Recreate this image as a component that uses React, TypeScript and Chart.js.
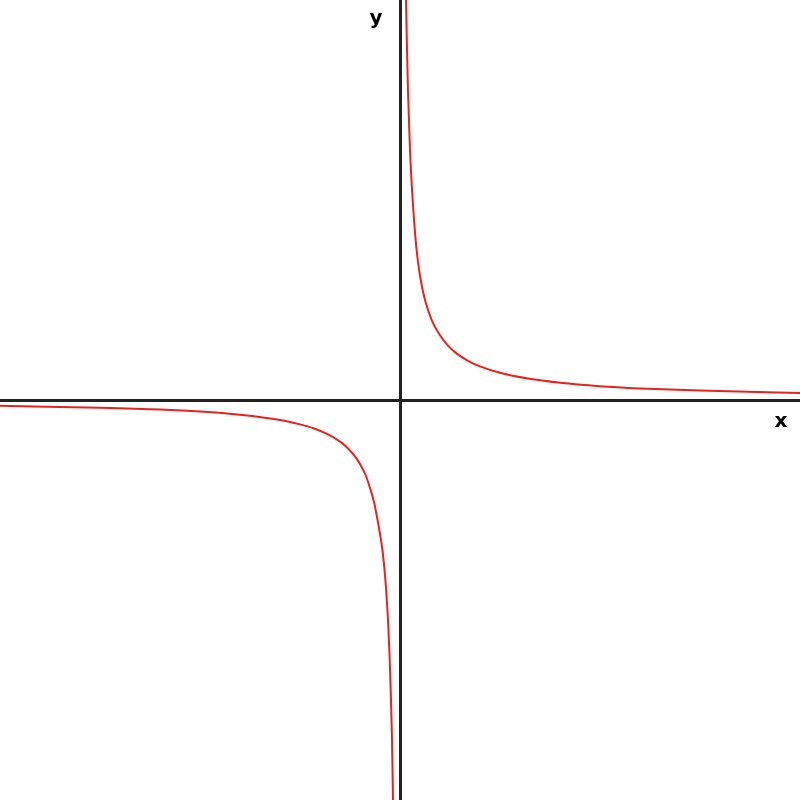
import React, { useEffect, useRef } from "react";
import { Chart, registerables } from "chart.js";

Chart.register(...registerables);

// Positive branch (x > 0)
const posX = [0.15, 0.17, 0.2, 0.25, 0.32, 0.41, 0.5, 0.63, 0.8, 1.0, 1.2, 1.42, 1.7, 2.0, 2.5, 3.2, 4.0, 5.0, 6.0, 7.5, 10];
const posY = [10, 9, 7.7, 6.24, 4.95, 3.8, 3.1, 2.48, 1.98, 1.62, 1.36, 1.16, 0.98, 0.84, 0.68, 0.535, 0.43, 0.345, 0.29, 0.235, 0.175];

// Negative branch (x < 0)
const negX = [-10, -7.5, -6, -5, -4, -3, -2.5, -2.18, -1.8, -1.5, -1.33, -1.15, -1.0, -0.85, -0.75, -0.65, -0.58, -0.5, -0.46, -0.4, -0.35, -0.3, -0.26, -0.225, -0.2, -0.175];
const negY = [-0.145, -0.195, -0.24, -0.29, -0.37, -0.5, -0.61, -0.7, -0.86, -1.04, -1.18, -1.38, -1.6, -1.9, -2.2, -2.55, -2.9, -3.35, -3.6, -4.1, -4.7, -5.5, -6.4, -7.5, -8.5, -10];

const xRange = [-10, 10];
const yRange = [-10, 10];
const axisLabels = { x: "x", y: "y" };

const labelPlugin = {
  id: "axisLabels",
  afterDraw(chart: any) {
    const ctx = chart.ctx;
    ctx.save();
    ctx.fillStyle = "#000";
    ctx.font = "bold 20px 'DejaVu Sans', sans-serif";
    ctx.textAlign = "center";
    ctx.textBaseline = "middle";
    const cx = chart.scales.x.getPixelForValue(0);
    const cy = chart.scales.y.getPixelForValue(0);
    ctx.fillText(axisLabels.y, cx - 24, 19);
    ctx.fillText(axisLabels.x, chart.chartArea.right - 19, cy + 22);
    ctx.restore();
  },
};

export default function App() {
  const ref = useRef<HTMLCanvasElement>(null);
  useEffect(() => {
    if (!ref.current) return;
    const lineStyle = {
      borderColor: "#e5231f",
      borderWidth: 2,
      pointRadius: 0,
      fill: false,
      cubicInterpolationMode: "monotone" as const,
    };
    const chart = new Chart(ref.current, {
      type: "line",
      data: {
        datasets: [
          { ...lineStyle, data: posX.map((x, i) => ({ x, y: posY[i] })) },
          { ...lineStyle, data: negX.map((x, i) => ({ x, y: negY[i] })) },
        ],
      },
      options: {
        animation: false,
        responsive: false,
        layout: { padding: 0 },
        plugins: { legend: { display: false }, tooltip: { enabled: false } },
        scales: {
          x: {
            type: "linear",
            min: xRange[0],
            max: xRange[1],
            position: { y: 0 } as any,
            ticks: { display: false },
            grid: { display: false },
            border: { display: true, color: "#222", width: 3 },
          },
          y: {
            type: "linear",
            min: yRange[0],
            max: yRange[1],
            position: { x: 0 } as any,
            ticks: { display: false },
            grid: { display: false },
            border: { display: true, color: "#222", width: 3 },
          },
        },
      },
      plugins: [labelPlugin],
    });
    return () => chart.destroy();
  }, []);
  return (
    <div style={{ position: "fixed", left: 0, top: 0, width: 800, height: 800, background: "#fff" }}>
      <canvas ref={ref} width={800} height={800} style={{ display: "block" }} />
    </div>
  );
}
